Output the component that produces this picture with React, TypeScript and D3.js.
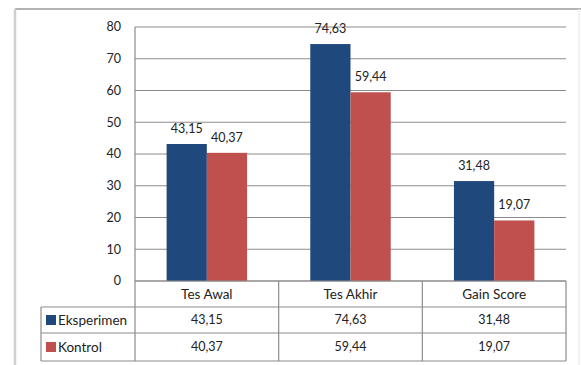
import React from "react";
import * as d3 from "d3";

const categories = ["Tes Awal", "Tes Akhir", "Gain Score"];
const seriesNames = ["Eksperimen", "Kontrol"];
const eksperimen = [43.15, 74.63, 31.48];
const kontrol = [40.37, 59.44, 19.07];
const yTicks = [0, 10, 20, 30, 40, 50, 60, 70, 80];
const colors = ["#1F497D", "#C0504D"];

const W = 581;
const H = 365;
const FONT = "Lato, 'Open Sans', sans-serif";
const fmt = (v: number) => v.toFixed(2).replace(".", ",");

export default function App() {
  const left = 135;
  const right = 566;
  const y = d3.scaleLinear().domain([0, 80]).range([281, 27]);
  const x0 = d3
    .scaleBand<string>()
    .domain(categories)
    .range([left, right])
    .paddingInner(0.44)
    .paddingOuter(0.22);
  const x1 = d3
    .scaleBand<string>()
    .domain(seriesNames)
    .range([0, x0.bandwidth()]);
  const cols = d3.scaleBand<string>().domain(categories).range([left, right]);
  const series = [eksperimen, kontrol];
  const rowTop = [281, 307, 333, 361];
  const tableLeft = 41;
  const gridColor = "#8c8c8c";
  const textColor = "#222";
  const wordSize = 13.5;
  const numSize = 12.5;

  return (
    <svg
      width={W}
      height={H}
      style={{ position: "absolute", left: 0, top: 0, background: "#fff" }}
    >
      {/* outer chart border */}
      <line x1={15} y1={9} x2={W} y2={9} stroke="#9a9a9a" strokeWidth={1.5} />
      <line x1={15} y1={9} x2={15} y2={H} stroke="#cfcfcf" strokeWidth={2.5} />
      <line x1={579} y1={9} x2={579} y2={H} stroke="#ececec" strokeWidth={1.5} />

      {/* gridlines */}
      {yTicks.map((t) => (
        <line
          key={"g" + t}
          x1={left}
          x2={right}
          y1={y(t)}
          y2={y(t)}
          stroke={gridColor}
          strokeWidth={1.2}
        />
      ))}
      <line x1={left} x2={left} y1={y(80)} y2={rowTop[3]} stroke={gridColor} strokeWidth={1.2} />

      {/* y tick labels */}
      {yTicks.map((t) => (
        <text
          key={"t" + t}
          x={121}
          y={y(t)}
          dy="0.35em"
          textAnchor="end"
          fontFamily={FONT}
          fontSize={numSize}
          fill={textColor}
        >
          {t}
        </text>
      ))}

      {/* bars */}
      {series.map((vals, si) =>
        categories.map((c, ci) => {
          const bx = (x0(c) as number) + (x1(seriesNames[si]) as number);
          const bw = x1.bandwidth();
          return (
            <g key={`b${si}-${ci}`}>
              <rect
                x={bx}
                y={y(vals[ci])}
                width={bw}
                height={y(0) - y(vals[ci])}
                fill={colors[si]}
              />
              <text
                x={bx + bw / 2}
                y={y(vals[ci]) - 11}
                textAnchor="middle"
                fontFamily={FONT}
                fontSize={numSize}
                fill={textColor}
              >
                {fmt(vals[ci])}
              </text>
            </g>
          );
        })
      )}

      {/* data table */}
      {rowTop.map((ry, i) => (
        <line
          key={"r" + i}
          x1={i === 0 ? left : tableLeft}
          x2={right}
          y1={ry}
          y2={ry}
          stroke={gridColor}
          strokeWidth={1.2}
        />
      ))}
      <line x1={tableLeft} x2={tableLeft} y1={rowTop[1]} y2={rowTop[3]} stroke={gridColor} strokeWidth={1.2} />
      {categories.map((c) => (
        <line
          key={"v" + c}
          x1={(cols(c) as number) + cols.bandwidth()}
          x2={(cols(c) as number) + cols.bandwidth()}
          y1={rowTop[0]}
          y2={rowTop[3]}
          stroke={gridColor}
          strokeWidth={1.2}
        />
      ))}
      {categories.map((c) => (
        <text
          key={"h" + c}
          x={(cols(c) as number) + cols.bandwidth() / 2}
          y={(rowTop[0] + rowTop[1]) / 2}
          dy="0.35em"
          textAnchor="middle"
          fontFamily={FONT}
          fontSize={wordSize}
          fill={textColor}
        >
          {c}
        </text>
      ))}
      {series.map((vals, si) => {
        const cy = (rowTop[si + 1] + rowTop[si + 2]) / 2;
        return (
          <g key={"row" + si}>
            <rect x={46} y={cy - 5} width={10} height={10} fill={colors[si]} />
            <text
              x={58}
              y={cy}
              dy="0.35em"
              fontFamily={FONT}
              fontSize={wordSize}
              fill={textColor}
            >
              {seriesNames[si]}
            </text>
            {categories.map((c, ci) => (
              <text
                key={"c" + ci}
                x={(cols(c) as number) + cols.bandwidth() / 2}
                y={cy}
                dy="0.35em"
                textAnchor="middle"
                fontFamily={FONT}
                fontSize={numSize}
                fill={textColor}
              >
                {fmt(vals[ci])}
              </text>
            ))}
          </g>
        );
      })}
    </svg>
  );
}
